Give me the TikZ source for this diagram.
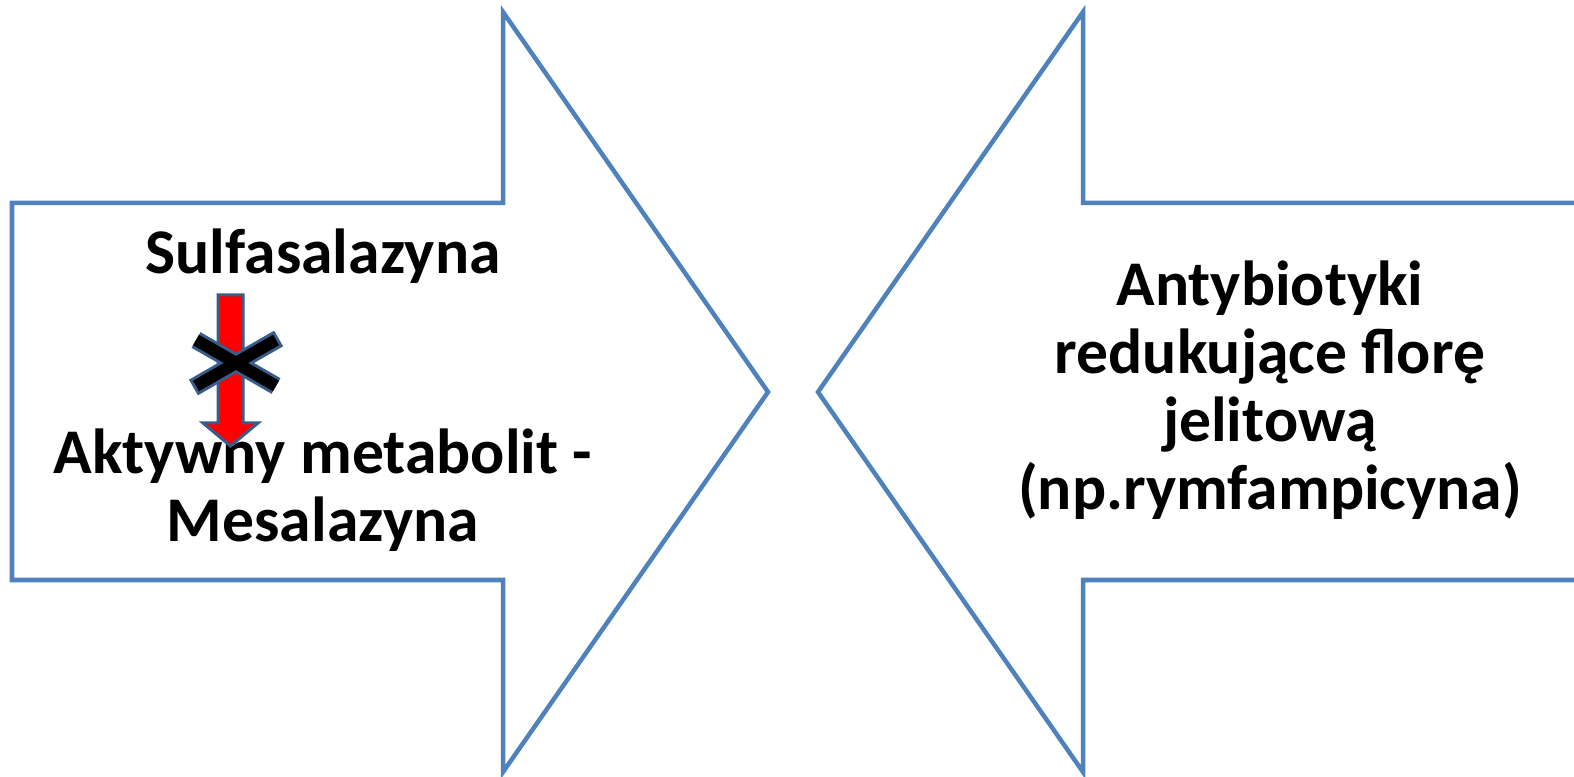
\documentclass[tikz,border=0pt]{standalone}
\usepackage{fontspec}
\setmainfont{Carlito}
\usepackage{tikz}
\definecolor{arrowBlue}{RGB}{79, 129, 189}
\definecolor{edgeBlue}{RGB}{56, 93, 138}
\definecolor{stopRed}{RGB}{255, 0, 0}

\begin{document}
\begin{tikzpicture}[x=0.01cm, y=-0.01cm,
    bigarrow/.style={draw=arrowBlue, line width=0.045cm, line join=miter},
    label/.style={font=\fontsize{18.1}{19.4}\selectfont\bfseries, align=center, inner sep=0pt}]
      \useasboundingbox (0,0) rectangle (1574,777);
      \clip (0,0) rectangle (1574,777);

      % big arrow pointing right
      \draw[bigarrow] (12,203) -- (503,203) -- (503,12) -- (768,392)
        -- (503,772) -- (503,580) -- (12,580) -- cycle;

      % big arrow pointing left, runs off the right edge
      \draw[bigarrow] (1600,203) -- (1083,203) -- (1083,12) -- (818,392)
        -- (1083,772) -- (1083,580) -- (1600,580);

      % texts (base = baseline of the last line)
      \node[label, anchor=base] (sulfa) at (323,274) {Sulfasalazyna};
      \node[label, anchor=base] (mesal) at (323,542) {Aktywny metabolit -\\Mesalazyna};
      \node[label, anchor=base] (anti) at (1270,510) {Antybiotyki\\redukujące florę\\jelitową\\(np.rymfampicyna)};

      % red block arrow from sulfa down to mesal
      \draw[edgeBlue, fill=stopRed, line width=0.03cm, line join=miter]
        (218,295) -- (243,295) -- (243,423) -- (258,423) -- (230.5,446)
        -- (203,423) -- (218,423) -- cycle;

      % the cross over it
      \draw[edgeBlue, line width=0.18cm, shorten <=-0.03cm, shorten >=-0.03cm]
        (196,340) -- (276,386) (276,340) -- (196,386);
      \draw[black, line width=0.12cm]
        (196,340) -- (276,386) (276,340) -- (196,386);
\end{tikzpicture}
\end{document}
